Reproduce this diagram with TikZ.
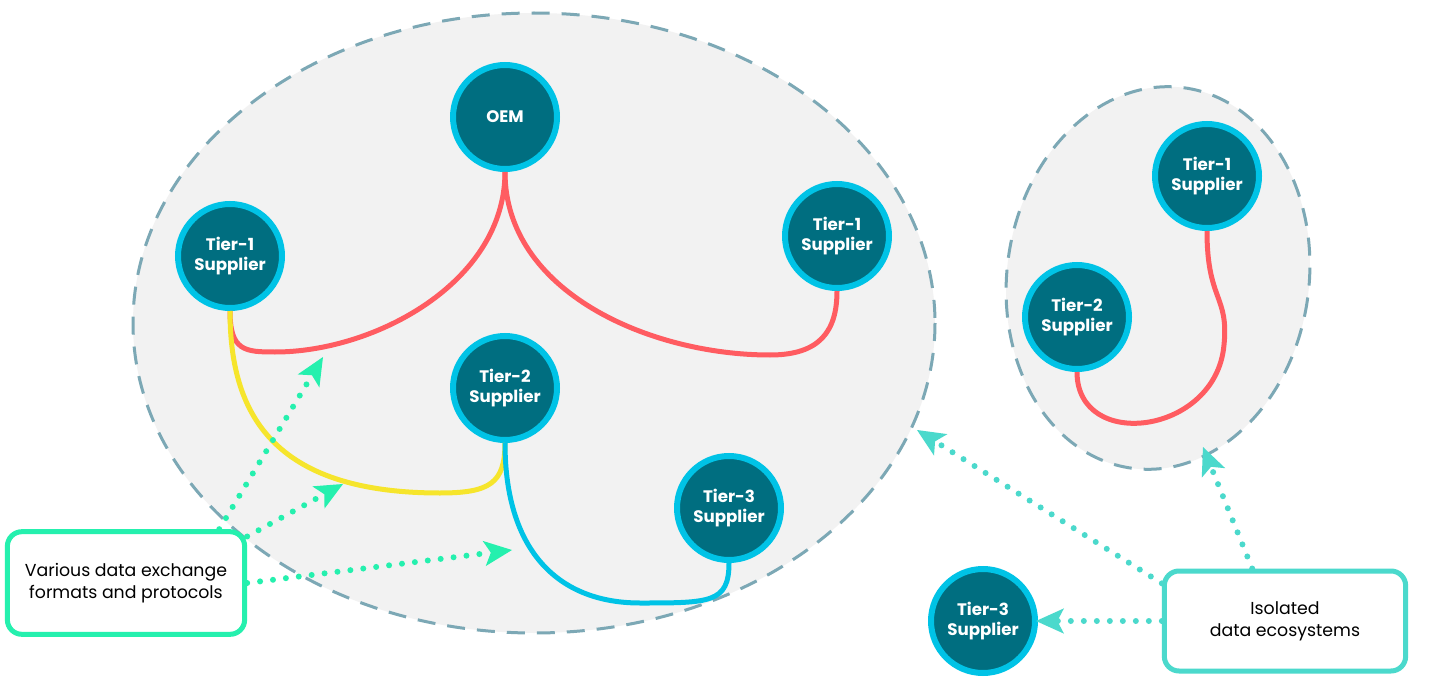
\documentclass[tikz,border=0pt]{standalone}
\usepackage{fontspec}
\setmainfont{Poppins}
\usetikzlibrary{arrows.meta}

\definecolor{petrol}{HTML}{006E80}
\definecolor{rand}{HTML}{00C3E6}
\definecolor{rot}{HTML}{FF5C61}
\definecolor{gelb}{HTML}{F6E52C}
\definecolor{mint}{HTML}{25F0AE}
\definecolor{tuerkis}{HTML}{4BD9CC}
\definecolor{hell}{HTML}{F2F2F2}
\definecolor{strich}{HTML}{7CA8B5}

\begin{document}
\begin{tikzpicture}[
  x=0.75pt, y=-0.75pt,
  every node/.style={inner sep=2mm}
]
\tikzstyle{insel}=[fill=hell, draw=strich, line width=2.25pt, dash pattern=on 13.5pt off 9pt]
\tikzstyle{firma}=[circle, draw=rand, fill=petrol, line width=4.5pt, minimum size=78pt, inner sep=0pt, text=white, align=center, font=\bfseries\fontsize{12.5}{15}\selectfont]
\tikzstyle{verbindung}=[line width=3.75pt]
\tikzstyle{hinweis}=[draw, fill=white, line width=3.75pt, rounded corners=11pt, align=center, font=\fontsize{13}{16.5}\selectfont]
\tikzstyle{zeiger}=[line width=4.5pt, line cap=round, dash pattern=on 0pt off 9.75pt, -{Stealth[length=21pt, width=19pt, inset=5pt, line width=0pt]}]

\fill[white] (0,0) rectangle (1429,699);
\useasboundingbox (0,0) rectangle (1429,699);

% the two ecosystems
\draw[insel] (534,323) ellipse [x radius=401, y radius=310];
\draw[insel, rotate around={-8:(1158,278)}] (1158,278) ellipse [x radius=151, y radius=192];

% partners
\node[firma] (oem) at (505,117) {OEM};
\node[firma] (tA) at (230,256) {Tier-1\\Supplier};
\node[firma] (tB) at (837,236) {Tier-1\\Supplier};
\node[firma] (tC) at (505,388) {Tier-2\\Supplier};
\node[firma] (tD) at (729,508) {Tier-3\\Supplier};
\node[firma] (iA) at (1207,176) {Tier-1\\Supplier};
\node[firma] (iB) at (1077,317) {Tier-2\\Supplier};
\node[firma] (iC) at (983,621) {Tier-3\\Supplier};

% links
\draw[verbindung, rot] (tA.south) .. controls +(0,40) and +(-30,0) .. (275,352)
  .. controls +(100,0) and +(0,110) .. (oem.south);
\draw[verbindung, rot] (oem.south) .. controls +(0,120) and +(-120,0) .. (770,355)
  .. controls +(50,0) and +(0,40) .. (tB.south);
\draw[verbindung, gelb] (tA.south) .. controls +(0,100) and +(-170,0) .. (440,493)
  .. controls +(50,0) and +(0,40) .. (tC.south);
\draw[verbindung, rand] (tC.south) .. controls +(0,110) and +(-80,0) .. (640,603)
  .. controls +(70,0) and +(0,40) .. (tD.south);
\draw[verbindung, rot] (iA.south) .. controls +(0,70) and +(5,-50) .. (1224,345)
  .. controls +(-8,90) and +(0,80) .. (iB.south);

% notes
\coordinate (pA) at (323,357);
\coordinate (pB) at (343,484);
\coordinate (pC) at (512,550);
\coordinate (pD) at (917,430);
\coordinate (pE) at (1203,447);
\coordinate (pF) at (1036,621);

\node[hinweis, draw=mint, minimum width=178pt, minimum height=77pt] (links) at (126,583) {Various data exchange\\formats and protocols};
\node[hinweis, draw=tuerkis, minimum width=181pt, minimum height=75pt] (rechts) at (1285,621) {Isolated\\data ecosystems};

\draw[zeiger, mint] (links.30) -- (pA);
\draw[zeiger, mint] (links.21) -- (pB);
\draw[zeiger, mint] (links.east) -- (pC);
\draw[zeiger, tuerkis] (rechts.163) -- (pD);
\draw[zeiger, tuerkis] (rechts.122) -- (pE);
\draw[zeiger, tuerkis] (rechts.west) -- (pF);
\end{tikzpicture}
\end{document}
